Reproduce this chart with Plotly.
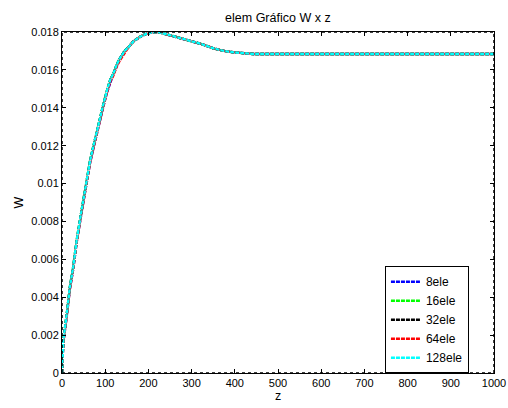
import plotly.graph_objects as go

z = [0, 3, 11, 18, 26, 34, 44, 50, 57, 65, 72, 80, 88, 96, 104, 112, 119, 127, 134, 145,
     154, 165, 181, 195, 208, 222, 242, 270, 296, 325, 350, 375, 396, 420, 443, 460, 600, 800, 1000]

w_8 = [0, 0.0016, 0.0030, 0.0044, 0.0055, 0.0069, 0.0083, 0.0091, 0.0102, 0.0111, 0.0118, 0.0126,
       0.0134, 0.0141, 0.0148, 0.0154, 0.0158, 0.0162, 0.0166, 0.0170, 0.0172, 0.0175, 0.01775,
       0.0179, 0.01798, 0.0180, 0.01788, 0.0177, 0.01754, 0.01735, 0.01714, 0.0170, 0.01693,
       0.01688, 0.01684, 0.01684, 0.01684, 0.01684, 0.01684]
w_16 = [0, 0.0017, 0.0031, 0.0045, 0.0056, 0.0070, 0.0084, 0.0092, 0.0103, 0.0112, 0.0119, 0.0127,
        0.0135, 0.0142, 0.0149, 0.0155, 0.0158, 0.0163, 0.0166, 0.0170, 0.0172, 0.0175, 0.01776,
        0.0179, 0.01798, 0.0180, 0.01788, 0.0177, 0.01754, 0.01735, 0.01714, 0.0170, 0.01693,
        0.01688, 0.01684, 0.01684, 0.01684, 0.01684, 0.01684]
w_32 = [0, 0.0017, 0.0031, 0.0045, 0.0056, 0.0070, 0.0084, 0.0092, 0.0103, 0.0112, 0.0119, 0.0127,
        0.0135, 0.0142, 0.0149, 0.0155, 0.0158, 0.0163, 0.0166, 0.0170, 0.0172, 0.0175, 0.01775,
        0.0179, 0.01798, 0.0180, 0.01788, 0.0177, 0.01754, 0.01735, 0.01714, 0.0170, 0.01693,
        0.01688, 0.01684, 0.01684, 0.01684, 0.01684, 0.01684]
w_64 = [0, 0.0016, 0.0030, 0.0044, 0.0055, 0.0069, 0.0083, 0.0091, 0.0102, 0.0111, 0.0118, 0.0126,
        0.0134, 0.0141, 0.0148, 0.0154, 0.0157, 0.0162, 0.0165, 0.0169, 0.0172, 0.0175, 0.01775,
        0.0179, 0.01798, 0.0180, 0.01788, 0.0177, 0.01754, 0.01735, 0.01714, 0.0170, 0.01693,
        0.01688, 0.01684, 0.01684, 0.01684, 0.01684, 0.01684]
w_128 = [0, 0.0017, 0.0031, 0.0045, 0.0056, 0.0070, 0.0084, 0.0092, 0.0103, 0.0112, 0.0119, 0.0127,
         0.0135, 0.0142, 0.0149, 0.0155, 0.0158, 0.0163, 0.0166, 0.0170, 0.0172, 0.0175, 0.01775,
         0.0179, 0.01798, 0.0180, 0.01788, 0.0177, 0.01754, 0.01735, 0.01714, 0.0170, 0.01693,
         0.01688, 0.01684, 0.01684, 0.01684, 0.01684, 0.01684]

names = ["8ele", "16ele", "32ele", "64ele", "128ele"]
series = [w_8, w_16, w_32, w_64, w_128]
colors = ["#0000ff", "#00ff00", "#000000", "#ff0000", "#00ffff"]

x_ticks = [0, 100, 200, 300, 400, 500, 600, 700, 800, 900, 1000]
y_ticks = [0, 0.002, 0.004, 0.006, 0.008, 0.01, 0.012, 0.014, 0.016, 0.018]
y_labels = ["0", "0.002", "0.004", "0.006", "0.008", "0.01", "0.012", "0.014", "0.016", "0.018"]

fig = go.Figure()
for name, w, c in zip(names, series, colors):
    fig.add_trace(go.Scatter(x=z, y=w, mode="lines", name=name,
                             line=dict(color=c, width=2.4, dash="4px,1px")))

font = dict(family="Liberation Sans, Arial, sans-serif", size=11, color="black")
fig.update_layout(
    width=508, height=408,
    margin=dict(l=62, r=14, t=32, b=35, autoexpand=False),
    paper_bgcolor="white", plot_bgcolor="white",
    font=font,
    title=dict(text="elem Gráfico W x z", x=0.547, xref="container", xanchor="center",
               y=1 - 18 / 408, yref="container", yanchor="middle", font=dict(size=12.5)),
    showlegend=True,
    legend=dict(x=0.942, y=0.313, xanchor="right", yanchor="top",
                bgcolor="white", bordercolor="black", borderwidth=1,
                font=dict(size=12), tracegroupgap=0, entrywidth=92, entrywidthmode="pixels"),
)
fig.update_xaxes(range=[0, 1000], tickvals=x_ticks, ticks="inside", ticklen=4,
                 tickcolor="black", showgrid=False, zeroline=False, automargin=False,
                 showline=True, linecolor="black", linewidth=1, mirror="ticks",
                 title=dict(text="z", standoff=3, font=dict(size=12.5)))
fig.update_yaxes(range=[0, 0.018], tickvals=y_ticks, ticktext=y_labels, ticks="inside",
                 ticklen=4, tickcolor="black", showgrid=False, zeroline=False, automargin=False,
                 showline=True, linecolor="black", linewidth=1, mirror="ticks",
                 title=dict(text="W", standoff=4, font=dict(size=12.5)))
fig.add_shape(type="rect", xref="paper", yref="paper", x0=0, y0=0, x1=1, y1=1,
              line=dict(color="black", width=1.5, dash="dot"))

fig.write_html("out.html", config={"displayModeBar": False},
               post_script="document.body.style.margin='0';document.body.style.overflow='hidden';")
